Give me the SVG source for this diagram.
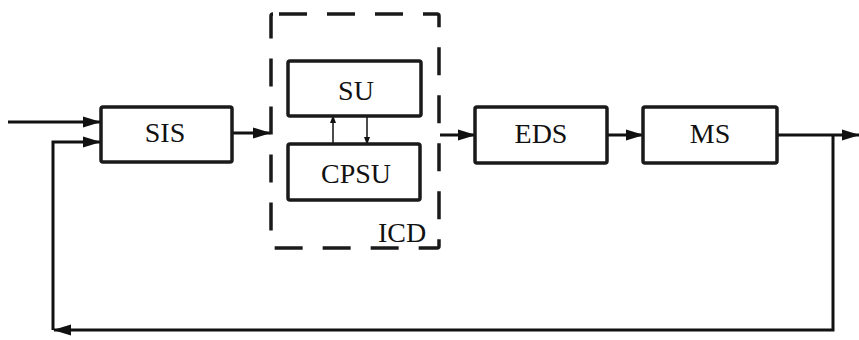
<svg xmlns="http://www.w3.org/2000/svg" width="859" height="340" viewBox="0 0 859 340">
<style>
.box{fill:#fff;stroke:#1a1a1a;stroke-width:3.5}
.lbl{font-family:"Liberation Serif","Times New Roman",serif;font-size:28px;fill:#111;text-anchor:middle}
.con{fill:none;stroke:#111;stroke-width:3}
.thin{fill:none;stroke:#111;stroke-width:1.5}
.dash{fill:none;stroke:#1a1a1a;stroke-width:3.5;stroke-dasharray:28 20}
</style>
<defs>
<marker id="ah" markerUnits="userSpaceOnUse" markerWidth="18" markerHeight="12" refX="17" refY="6" orient="auto">
<path d="M0,0.5 L18,6 L0,11.5 z" fill="#111"/>
</marker>
<marker id="sh" markerUnits="userSpaceOnUse" markerWidth="8" markerHeight="6" refX="7" refY="3" orient="auto">
<path d="M0,0 L8,3 L0,6 z" fill="#111"/>
</marker>
</defs>
<g id="connectors">
<path class="con" d="M8,122 H100" marker-end="url(#ah)"/>
<path class="con" d="M833,135 V330 H54" marker-end="url(#ah)"/>
<path class="con" d="M53,330 V142 H100" marker-end="url(#ah)"/>
<path class="con" d="M232,133 H270" marker-end="url(#ah)"/>
<path class="thin" d="M333,144 V116" marker-end="url(#sh)"/>
<path class="thin" d="M367,116 V144" marker-end="url(#sh)"/>
<path class="con" d="M440,135 H475" marker-end="url(#ah)"/>
<path class="con" d="M607,135 H643" marker-end="url(#ah)"/>
<path class="con" d="M777,135 H859" marker-end="url(#ah)"/>
</g>
<g id="ICD">
<rect class="dash" x="271" y="14" width="168" height="234" rx="2" stroke-dashoffset="-6"/>
<text class="lbl" x="402" y="242">ICD</text>
</g>
<g id="SIS">
<rect class="box" x="101" y="107" width="131" height="55" rx="2"/>
<text class="lbl" x="165" y="142">SIS</text>
</g>
<g id="SU">
<rect class="box" x="288" y="61" width="133" height="55" rx="2"/>
<text class="lbl" x="356" y="100">SU</text>
</g>
<g id="CPSU">
<rect class="box" x="288" y="144" width="132" height="56" rx="2"/>
<text class="lbl" x="356" y="183">CPSU</text>
</g>
<g id="EDS">
<rect class="box" x="475" y="107" width="132" height="56" rx="2"/>
<text class="lbl" x="541" y="143">EDS</text>
</g>
<g id="MS">
<rect class="box" x="643" y="107" width="134" height="56" rx="2"/>
<text class="lbl" x="710" y="143">MS</text>
</g>
</svg>
